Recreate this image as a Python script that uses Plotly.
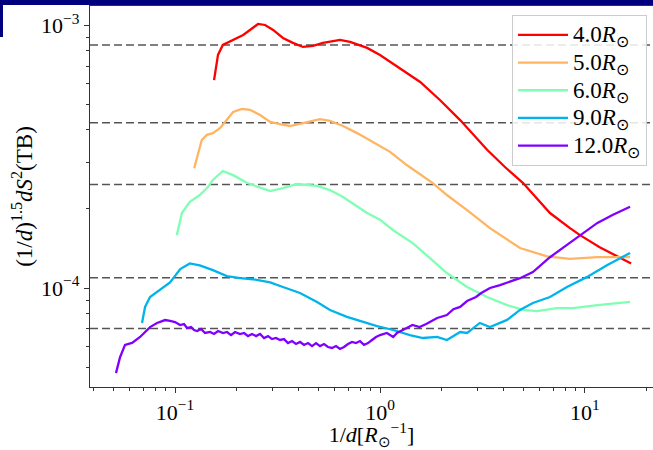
import plotly.graph_objects as go

# ---------------- data ----------------
labels = ["4.0<i>R</i><sub>⊙</sub>", "5.0<i>R</i><sub>⊙</sub>", "6.0<i>R</i><sub>⊙</sub>",
          "9.0<i>R</i><sub>⊙</sub>", "12.0<i>R</i><sub>⊙</sub>"]
colors = ["#ff0000", "#ffb462", "#80ffb4", "#00b4eb", "#8000ff"]

x_r4 = [0.155, 0.162, 0.171, 0.192, 0.215, 0.232, 0.254, 0.275, 0.301, 0.336, 0.376, 0.421,
        0.471, 0.527, 0.638, 0.714, 0.865, 1.0, 1.12, 1.25, 1.57, 1.96, 2.46, 3.33, 4.07,
        4.99, 6.75, 8.45, 9.46, 11.8, 16.8]
y_r4 = [6.19e-4, 7.72e-4, 8.43e-4, 8.81e-4, 9.20e-4, 9.61e-4, 1.013e-3, 1.004e-3, 9.61e-4,
        8.96e-4, 8.58e-4, 8.28e-4, 8.36e-4, 8.58e-4, 8.81e-4, 8.65e-4, 8.21e-4, 7.72e-4,
        7.26e-4, 6.89e-4, 6.09e-4, 5.20e-4, 4.36e-4, 3.36e-4, 2.89e-4, 2.51e-4, 1.93e-4,
        1.69e-4, 1.59e-4, 1.43e-4, 1.24e-4]

x_r5 = [0.124, 0.128, 0.135, 0.143, 0.153, 0.166, 0.179, 0.192, 0.212, 0.232, 0.260, 0.291,
        0.325, 0.364, 0.421, 0.509, 0.570, 0.660, 0.773, 0.924, 1.12, 1.35, 1.81, 2.12, 2.66,
        3.44, 4.82, 6.53, 8.45, 11.5, 16.6]
y_r5 = [2.86e-4, 3.16e-4, 3.66e-4, 3.83e-4, 3.89e-4, 4.07e-4, 4.36e-4, 4.68e-4, 4.81e-4,
        4.77e-4, 4.56e-4, 4.29e-4, 4.21e-4, 4.14e-4, 4.25e-4, 4.40e-4, 4.33e-4, 4.14e-4,
        3.89e-4, 3.60e-4, 3.30e-4, 2.94e-4, 2.51e-4, 2.26e-4, 1.98e-4, 1.69e-4, 1.42e-4,
        1.32e-4, 1.29e-4, 1.31e-4, 1.31e-4]

x_r6 = [0.102, 0.108, 0.118, 0.132, 0.145, 0.153, 0.171, 0.192, 0.225, 0.291, 0.336, 0.394,
        0.493, 0.570, 0.660, 0.865, 1.0, 1.16, 1.45, 1.75, 2.12, 2.66, 3.33, 4.17, 4.99, 5.83,
        7.30, 8.74, 11.5, 16.6]
y_r6 = [1.59e-4, 1.93e-4, 2.13e-4, 2.26e-4, 2.43e-4, 2.58e-4, 2.79e-4, 2.69e-4, 2.51e-4,
        2.34e-4, 2.40e-4, 2.49e-4, 2.45e-4, 2.36e-4, 2.22e-4, 1.93e-4, 1.82e-4, 1.66e-4,
        1.48e-4, 1.30e-4, 1.14e-4, 1.009e-4, 9.24e-5, 8.61e-5, 8.25e-5, 8.17e-5, 8.39e-5,
        8.39e-5, 8.61e-5, 8.85e-5]

x_r9 = [0.069, 0.0714, 0.0755, 0.0845, 0.0945, 0.106, 0.118, 0.132, 0.153, 0.179, 0.208,
        0.240, 0.291, 0.336, 0.407, 0.493, 0.570, 0.690, 0.826, 0.967, 1.16, 1.40, 1.62, 1.90,
        2.12, 2.46, 2.66, 3.07, 3.44, 4.17, 4.82, 5.57, 6.75, 8.17, 10.2, 12.8, 16.6]
y_r9 = [7.36e-5, 8.47e-5, 9.24e-5, 9.82e-5, 1.05e-4, 1.18e-4, 1.24e-4, 1.22e-4, 1.17e-4,
        1.11e-4, 1.09e-4, 1.08e-4, 1.05e-4, 1.009e-4, 9.57e-5, 8.85e-5, 8.25e-5, 7.76e-5,
        7.42e-5, 7.16e-5, 6.92e-5, 6.62e-5, 6.45e-5, 6.51e-5, 6.34e-5, 6.80e-5, 6.74e-5,
        7.36e-5, 7.10e-5, 7.56e-5, 8.25e-5, 8.77e-5, 9.24e-5, 1.009e-4, 1.10e-4, 1.22e-4,
        1.36e-4]

x_r12 = [0.0515, 0.0539, 0.0570, 0.0617, 0.0675, 0.0755, 0.0817, 0.0894, 0.0945, 0.1000,
         0.1058, 0.1106, 0.1144, 0.1197, 0.1238, 0.1281, 0.1339, 0.1401, 0.1482, 0.1550,
         0.1621, 0.1714, 0.1793, 0.1875, 0.1962, 0.2075, 0.2171, 0.2270, 0.2374, 0.2484,
         0.2598, 0.2717, 0.2842, 0.2972, 0.3109, 0.3252, 0.3401, 0.3557, 0.3721, 0.3892,
         0.4072, 0.4259, 0.4454, 0.4659, 0.4873, 0.5097, 0.5331, 0.5575, 0.5832, 0.6100,
         0.6380, 0.6673, 0.6980, 0.7301, 0.7636, 0.7987, 0.8354, 0.8738, 0.9140, 0.9561,
         1.0, 1.08, 1.16, 1.21, 1.35, 1.44, 1.56, 1.68, 1.90, 2.12, 2.28, 2.46, 2.66,
         2.94, 3.12, 3.44, 3.85, 4.82, 5.57, 6.75, 8.17, 9.46, 11.5, 13.7, 16.6]
y_r12 = [4.74e-5, 5.45e-5, 6.07e-5, 6.18e-5, 6.51e-5, 7.10e-5, 7.36e-5, 7.55e-5, 7.49e-5,
         7.42e-5, 7.23e-5, 7.29e-5, 7.04e-5, 7.10e-5, 6.92e-5, 6.86e-5, 6.98e-5, 6.74e-5,
         6.80e-5, 6.68e-5, 6.86e-5, 6.74e-5, 6.80e-5, 6.62e-5, 6.80e-5, 6.68e-5, 6.74e-5,
         6.56e-5, 6.68e-5, 6.56e-5, 6.68e-5, 6.45e-5, 6.56e-5, 6.39e-5, 6.45e-5, 6.34e-5,
         6.39e-5, 6.17e-5, 6.28e-5, 6.12e-5, 6.23e-5, 6.07e-5, 6.17e-5, 6.01e-5, 6.17e-5,
         6.01e-5, 6.12e-5, 5.96e-5, 5.91e-5, 6.01e-5, 5.86e-5, 5.96e-5, 6.12e-5, 6.23e-5,
         6.17e-5, 6.28e-5, 6.07e-5, 6.17e-5, 6.34e-5, 6.51e-5, 6.62e-5, 6.74e-5, 6.51e-5,
         6.74e-5, 7.04e-5, 7.23e-5, 7.10e-5, 7.29e-5, 7.69e-5, 7.89e-5, 8.30e-5, 8.47e-5,
         8.92e-5, 9.24e-5, 9.57e-5, 1.0e-4, 1.026e-4, 1.09e-4, 1.15e-4, 1.31e-4, 1.46e-4,
         1.59e-4, 1.77e-4, 1.90e-4, 2.04e-4]

ref_levels = [8.43e-4, 4.26e-4, 2.48e-4, 1.094e-4, 7.01e-5]

x_tickvals = [0.1, 1, 10]
x_ticktext = ["10<sup>−1</sup>", "10<sup>0</sup>", "10<sup>1</sup>"]
y_tickvals = [1e-4, 1e-3]
y_ticktext = ["10<sup>−4</sup>", "10<sup>−3</sup>"]

series_x = [x_r4, x_r5, x_r6, x_r9, x_r12]
series_y = [y_r4, y_r5, y_r6, y_r9, y_r12]

# ---------------- figure ----------------
FONT = "Liberation Serif"
AX = "#333333"

fig = go.Figure()
for xs, ys, name, col in zip(series_x, series_y, labels, colors):
    fig.add_trace(go.Scatter(x=xs, y=ys, mode="lines",
                             name="<span style='font-size:23px'>" + name + "</span>",
                             line=dict(color=col, width=2.3)))

for lv in ref_levels:
    fig.add_shape(type="line", xref="paper", x0=0, x1=1, yref="y", y0=lv, y1=lv,
                  line=dict(color="#555555", width=1.5, dash="8px,4px"), layer="below")

x_minor = [m * d for d in (0.01, 0.1, 1, 10) for m in range(2, 10)]
y_minor = [m * d for d in (1e-5, 1e-4) for m in range(2, 10)]

fig.update_xaxes(type="log", range=[-1.415, 1.332], showline=True, linecolor=AX,
                 linewidth=1.2, mirror=True, ticks="outside", ticklen=5, tickwidth=1,
                 tickcolor=AX, tickvals=x_tickvals, ticktext=x_ticktext, showgrid=False,
                 zeroline=False, tickfont=dict(family=FONT, size=22, color="black"),
                 minor=dict(ticks="outside", ticklen=3, tickwidth=0.8, tickcolor=AX,
                            tickvals=x_minor, showgrid=False),
                 title=dict(text="1/<i>d</i>[<i>R</i><sub>⊙</sub><sup>−1</sup>]",
                            font=dict(family=FONT, size=22, color="black"), standoff=2))
fig.update_yaxes(type="log", range=[-4.377, -2.926], showline=True, linecolor=AX,
                 linewidth=1.2, mirror=False, ticks="outside", ticklen=5, tickwidth=1,
                 tickcolor=AX, tickvals=y_tickvals, ticktext=y_ticktext, showgrid=False,
                 zeroline=False, tickfont=dict(family=FONT, size=22, color="black"),
                 minor=dict(ticks="outside", ticklen=3, tickwidth=0.8, tickcolor=AX,
                            tickvals=y_minor, showgrid=False),
                 title=dict(text="(1/<i>d</i>)<sup>1.5</sup><i>dS</i><sup>2</sup>(TB)",
                            font=dict(family=FONT, size=23, color="black"), standoff=2))

# dark blue slide header remnants
fig.add_shape(type="rect", xref="paper", yref="paper", x0=-0.2, x1=1.05,
              y0=(387 - 5) / 381, y1=1.1, fillcolor="#00007f", line=dict(width=0), layer="above")
fig.add_shape(type="rect", xref="paper", yref="paper", x0=-0.2, x1=(3 - 90) / 563,
              y0=(387 - 37) / 381, y1=1.1, fillcolor="#00007f", line=dict(width=0), layer="above")

fig.update_layout(
    width=653, height=450,
    margin=dict(l=90, r=0, t=6, b=63, autoexpand=False),
    plot_bgcolor="white", paper_bgcolor="white",
    font=dict(family=FONT, size=22, color="black"),
    legend=dict(x=(512 - 90) / 563, y=(387 - 15) / 381, xanchor="left", yanchor="top",
                bgcolor="rgba(255,255,255,0.85)", bordercolor="#cccccc", borderwidth=1,
                font=dict(family=FONT, size=19, color="black"), itemwidth=50,
                tracegroupgap=0),
    showlegend=True,
)

fig.write_html("out.html")
